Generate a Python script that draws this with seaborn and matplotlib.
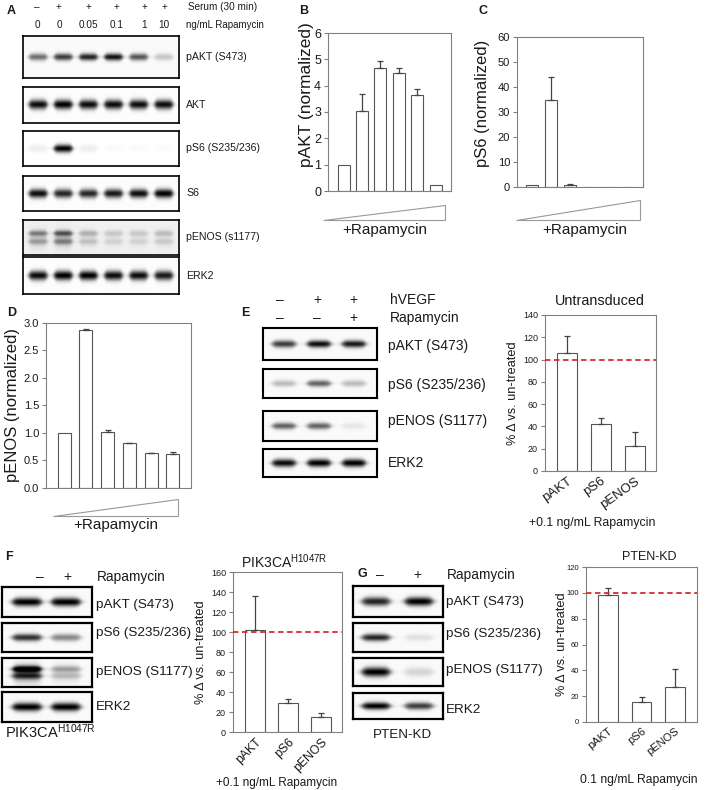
import numpy as np
import pandas as pd
import matplotlib
matplotlib.use("Agg")
import matplotlib.pyplot as plt
import seaborn as sns
from matplotlib.patches import Polygon

# ---------------- data ----------------
dose_lanes = ["ctrl", "0", "0.05", "0.1", "1", "10"]
serum_row = ["–", "+", "+", "+", "+", "+"]
dose_row = ["0", "0", "0.05", "0.1", "1", "10"]

pakt_norm = [1.00, 3.05, 4.66, 4.47, 3.65, 0.23]
pakt_norm_err = [0.0, 0.62, 0.26, 0.19, 0.22, 0.0]
ps6_norm = [1.0, 34.8, 1.0, 0.0, 0.0, 0.0]
ps6_norm_err = [0.0, 9.2, 0.3, 0.0, 0.0, 0.0]
penos_norm = [1.00, 2.88, 1.02, 0.81, 0.64, 0.62]
penos_norm_err = [0.0, 0.01, 0.04, 0.015, 0.005, 0.04]

targets = ["pAKT", "pS6", "pENOS"]
untransduced_pct = [106.3, 42.5, 22.8]
untransduced_err = [14.6, 5.0, 12.2]
pik3ca_pct = [102.0, 29.3, 14.7]
pik3ca_err = [34.0, 3.7, 4.0]
ptenkd_pct = [98.0, 15.6, 27.1]
ptenkd_err = [5.8, 3.4, 14.0]

# western blot band intensities (0 = none, 1 = saturated)
blotA_labels = ["pAKT (S473)", "AKT", "pS6 (S235/236)", "S6", "pENOS (s1177)", "ERK2"]
blotA_pakt = [0.55, 0.75, 0.85, 0.92, 0.65, 0.2]
blotA_akt = [0.95, 1.0, 0.95, 0.95, 0.95, 0.95]
blotA_ps6 = [0.07, 1.0, 0.07, 0.02, 0.02, 0.02]
blotA_s6 = [0.95, 0.85, 0.85, 0.9, 0.95, 1.0]
blotA_penos = [0.4, 0.55, 0.22, 0.14, 0.14, 0.18]
blotA_erk2 = [0.95, 1.0, 1.0, 0.95, 0.95, 0.9]

vegf_row = ["–", "+", "+"]
rapaE_row = ["–", "–", "+"]
blot_labels = ["pAKT (S473)", "pS6 (S235/236)", "pENOS (S1177)", "ERK2"]
blotE_pakt = [0.75, 0.95, 0.9]
blotE_ps6 = [0.25, 0.6, 0.25]
blotE_penos = [0.6, 0.6, 0.08]
blotE_erk2 = [0.95, 1.0, 1.0]

rapa_row = ["–", "+"]
blotF_pakt = [1.0, 1.0]
blotF_ps6 = [0.8, 0.45]
blotF_penos = [1.0, 0.3]
blotF_erk2 = [1.0, 1.0]
blotG_pakt = [0.85, 1.0]
blotG_ps6 = [0.85, 0.1]
blotG_penos = [1.0, 0.15]
blotG_erk2 = [1.0, 0.75]

# ---------------- style ----------------
sns.set_theme(style="white")
plt.rcParams["font.family"] = ["Liberation Sans", "DejaVu Sans"]
plt.rcParams["mathtext.fontset"] = "custom"
plt.rcParams["mathtext.rm"] = "Liberation Sans"
plt.rcParams["mathtext.it"] = "Liberation Sans:italic"
plt.rcParams["mathtext.bf"] = "Liberation Sans:bold"

W, H = 709, 790
fig = plt.figure(figsize=(W / 100, H / 100), dpi=100)
fig.patch.set_facecolor("white")

TXT = "#1a1a1a"
SPINE = "#808080"


def px(x0, y0, x1, y1):
    return [x0 / W, 1 - y1 / H, (x1 - x0) / W, (y1 - y0) / H]


def blot(x0, y0, x1, y1, first_lane, spacing, levels, halfw=0.34, sig=0.09,
         double=False, bg=0.02, lw=1.3):
    ax = fig.add_axes(px(x0, y0, x1, y1))
    xl0 = (x0 - first_lane) / spacing
    xl1 = (x1 - first_lane) / spacing
    xs = np.linspace(xl0, xl1, 400)
    ys = np.linspace(1, 0, 120)
    X, Y = np.meshgrid(xs, ys)
    img = np.full_like(X, bg)
    for i, lev in enumerate(levels):
        h = 1 / (1 + np.exp((np.abs(X - i) - halfw) / 0.045))
        s = sig * (0.5 + 0.5 * h)
        if double:
            v = (0.6 * np.exp(-0.5 * ((Y - 0.38) / s) ** 2)
                 + np.exp(-0.5 * ((Y - 0.62) / s) ** 2)
                 + 0.3 * np.exp(-0.5 * ((Y - 0.45) / (3 * s)) ** 2))
        else:
            v = np.exp(-0.5 * ((Y - 0.5) / s) ** 2)
        img += lev * h * v
    ax.imshow(np.clip(img, 0, 1), cmap="gray_r", vmin=0, vmax=1,
              extent=(xl0, xl1, 0, 1), aspect="auto", interpolation="bilinear")
    ax.set_xlim(xl0, xl1)
    ax.set_ylim(0, 1)
    ax.set_xticks([])
    ax.set_yticks([])
    for sp in ax.spines.values():
        sp.set_visible(True)
        sp.set_color("black")
        sp.set_linewidth(lw)
    return ax


def bars(rect, cats, vals, errs, ylim, yticks, width, xlim, tick_fs,
         ticklabels=None, redline=False, rot=35, xfs=9.5):
    ax = fig.add_axes(px(*rect))
    df = pd.DataFrame({"cat": cats, "val": vals})
    sns.barplot(data=df, x="cat", y="val", order=cats, color="white",
                saturation=1, edgecolor="#555555", linewidth=0.8, width=width,
                errorbar=None, ax=ax, zorder=2)
    pos = np.arange(len(cats))
    e = np.asarray(errs, dtype=float)
    m = e > 0
    ax.errorbar(pos[m], np.asarray(vals)[m], yerr=[np.zeros(m.sum()), e[m]],
                fmt="none", ecolor="#444444", elinewidth=0.9, capsize=2,
                capthick=0.9, zorder=3)
    if redline:
        ax.axhline(100, color="#e0262b", ls=(0, (3, 2)), lw=1.3, zorder=4)
    ax.set_ylim(*ylim)
    ax.set_yticks(yticks)
    ax.set_xlim(*xlim)
    ax.set_xlabel("")
    ax.set_ylabel("")
    for sp in ax.spines.values():
        sp.set_visible(True)
        sp.set_color(SPINE)
        sp.set_linewidth(0.8)
    ax.tick_params(axis="y", direction="out", length=3, width=0.8,
                   color=SPINE, labelsize=tick_fs, pad=2, labelcolor=TXT, left=True)
    ax.tick_params(axis="x", length=0)
    if ticklabels is None:
        ax.set_xticklabels([])
    else:
        ax.set_xticks(pos)
        ax.set_xticklabels(ticklabels, rotation=rot, ha="right",
                           rotation_mode="anchor", fontsize=xfs, color=TXT)
        ax.tick_params(axis="x", pad=3)
    ax.set_facecolor("white")
    return ax


# ---------------- Panel A: blots ----------------
a_rows = [(36, 78, blotA_pakt, 0.06, False, 0.02),
          (87, 123, blotA_akt, 0.09, False, 0.01),
          (131, 166, blotA_ps6, 0.08, False, 0.0),
          (176, 211, blotA_s6, 0.09, False, 0.01),
          (220, 255, blotA_penos, 0.06, True, 0.06),
          (257, 294, blotA_erk2, 0.09, False, 0.01)]
for (y0, y1, lev, sg, dbl, bg) in a_rows:
    blot(23, y0, 179, y1, 38, 25.2, lev, halfw=0.36, sig=sg, double=dbl, bg=bg, lw=1.2)

# ---------------- Panel B/C/D charts ----------------
bars((328, 33, 451, 191), dose_lanes, pakt_norm, pakt_norm_err, (0, 6),
     range(0, 7), 0.65, (-0.85, 5.83), 9)
bars((517, 37, 643, 187), dose_lanes, ps6_norm, ps6_norm_err, (0, 60),
     range(0, 61, 10), 0.65, (-0.79, 5.84), 8)
axD = bars((46, 323, 191, 488), dose_lanes, penos_norm, penos_norm_err, (0, 3),
           np.arange(0, 3.01, 0.5), 0.6, (-0.83, 5.83), 8)
axD.set_yticklabels([f"{t:.1f}" for t in np.arange(0, 3.01, 0.5)])

# ---------------- Panel E ----------------
for (y0, y1, lev, sg) in [(328, 360, blotE_pakt, 0.08), (369, 398, blotE_ps6, 0.08),
                          (411, 441, blotE_penos, 0.08), (449, 477, blotE_erk2, 0.1)]:
    blot(263, y0, 377, y1, 284, 35, lev, halfw=0.33, sig=sg, bg=0.02, lw=1.5)
bars((545, 315, 656, 471), targets, untransduced_pct, untransduced_err, (0, 140),
     range(0, 141, 20), 0.59, (-0.65, 2.62), 6.5, ticklabels=targets,
     redline=True, rot=35, xfs=9.5)

# ---------------- Panel F ----------------
for (y0, y1, lev, sg, dbl) in [(587, 617, blotF_pakt, 0.1, False), (623, 652, blotF_ps6, 0.09, False),
                               (658, 687, blotF_penos, 0.08, True), (692, 722, blotF_erk2, 0.1, False)]:
    blot(2, y0, 92, y1, 27, 39, lev, halfw=0.37, sig=sg, double=dbl, bg=0.02, lw=1.6)
bars((233, 572, 342, 732), targets, pik3ca_pct, pik3ca_err, (0, 160),
     range(0, 161, 20), 0.6, (-0.67, 2.64), 6.5, ticklabels=targets,
     redline=True, rot=45, xfs=8.8)

# ---------------- Panel G ----------------
for (y0, y1, lev, sg) in [(586, 617, blotG_pakt, 0.1), (623, 652, blotG_ps6, 0.09),
                          (658, 686, blotG_penos, 0.12), (693, 719, blotG_erk2, 0.1)]:
    blot(353, y0, 443, y1, 376, 43, lev, halfw=0.32, sig=sg, bg=0.02, lw=1.6)
bars((586, 567, 697, 722), targets, ptenkd_pct, ptenkd_err, (0, 120),
     range(0, 121, 20), 0.59, (-0.66, 2.66), 5.5, ticklabels=targets,
     redline=True, rot=38, xfs=8)

# ---------------- overlay: text and triangles ----------------
ov = fig.add_axes([0, 0, 1, 1])
ov.set_xlim(0, W)
ov.set_ylim(H, 0)
ov.axis("off")
ov.patch.set_alpha(0)


def T(x, y, s, fs, ha="left", va="center", **kw):
    ov.text(x, y, s, fontsize=fs, ha=ha, va=va, color=TXT, **kw)


# panel letters
for (x, y, s) in [(11, 11, "A"), (304, 11, "B"), (483, 11, "C"), (12, 313, "D"),
                  (245, 313, "E"), (9, 557, "F"), (362, 574, "G")]:
    T(x, y, s, 9, ha="center", fontweight="bold")

# A headers
for x, s1, s2 in zip([37, 59, 88, 117, 144, 164], serum_row, dose_row):
    T(x, 7, s1, 7.2, ha="center")
    T(x, 25, s2, 7.2, ha="center")
T(188, 7, "Serum (30 min)", 7.2)
T(186, 25, "ng/mL Rapamycin", 7.0)
for y, s in zip([57, 105, 148, 193, 237, 276], blotA_labels):
    T(186, y, s, 7.6)

# B, C, D labels and triangles
T(307, 95, "pAKT (normalized)", 12.5, ha="center", rotation=90)
T(483, 103, "pS6 (normalized)", 12, ha="center", rotation=90)
T(13, 405, "pENOS (normalized)", 12, ha="center", rotation=90)
for pts, (tx, ty) in [([(323, 220), (445, 220), (445, 205)], (385, 230)),
                      ([(516, 220), (640, 220), (640, 200)], (585, 230)),
                      ([(53, 516), (178, 516), (178, 499)], (116, 525))]:
    ov.add_patch(Polygon(pts, closed=True, fc="white", ec="#999999", lw=0.8))
    T(tx, ty, "+Rapamycin", 11, ha="center")

# E texts
for x, s1, s2 in zip([280, 317, 353], vegf_row, rapaE_row):
    T(x, 300, s1, 10, ha="center")
    T(x, 318, s2, 10, ha="center")
T(390, 300, "hVEGF", 10)
T(390, 318, "Rapamycin", 10)
for y, s in zip([346, 385, 421, 463], blot_labels):
    T(388, y, s, 10)
T(600, 301, "Untransduced", 10.4, ha="center")
T(513, 393, "% Δ vs. un-treated", 9.2, ha="center", rotation=90)
T(592, 523, "+0.1 ng/mL Rapamycin", 8.8, ha="center")

# F texts
for x, s in zip([40, 67], rapa_row):
    T(x, 577, s, 10, ha="center")
T(97, 577, "Rapamycin", 9.8)
for y, s in zip([605, 633, 672, 707], blot_labels):
    T(96, y, s, 9.7)
T(50, 732, r"PIK3CA$^{\mathrm{H1047R}}$", 10.5, ha="center")
T(284, 562, r"PIK3CA$^{\mathrm{H1047R}}$", 10, ha="center")
T(201, 652, "% Δ vs. un-treated", 9.2, ha="center", rotation=90)
T(277, 783, "+0.1 ng/mL Rapamycin", 8.5, ha="center")

# G texts
for x, s in zip([380, 417], rapa_row):
    T(x, 575, s, 10, ha="center")
T(447, 575, "Rapamycin", 9.8)
for y, s in zip([602, 634, 670, 710], blot_labels):
    T(446, y, s, 9.7)
T(402, 735, "PTEN-KD", 9.6, ha="center")
T(649, 557, "PTEN-KD", 9, ha="center")
T(562, 644, "% Δ vs. un-treated", 9.2, ha="center", rotation=90)
T(639, 780, "0.1 ng/mL Rapamycin", 8.7, ha="center")

fig.savefig("out.png", dpi=100, facecolor="white")
